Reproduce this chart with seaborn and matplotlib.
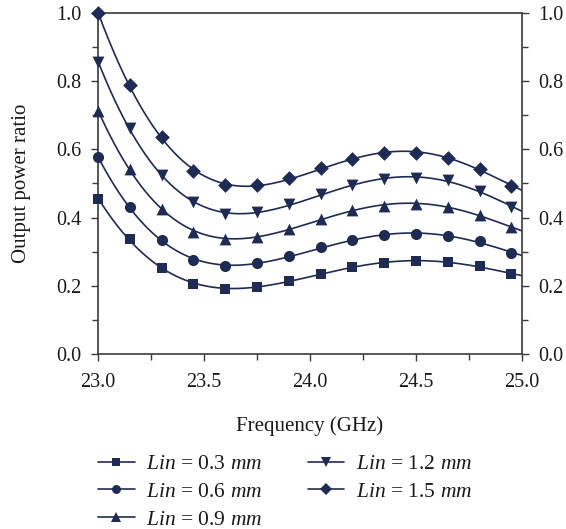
import numpy as np
import pandas as pd
import matplotlib
matplotlib.use("Agg")
import matplotlib.pyplot as plt
import seaborn as sns
from matplotlib.ticker import MultipleLocator, FormatStrFormatter
from matplotlib.lines import Line2D

# ---- data ----
freq = [23.00, 23.15, 23.30, 23.45, 23.60, 23.75, 23.90, 24.05, 24.20, 24.35, 24.50, 24.65, 24.80, 24.95]
lin_03 = [0.456, 0.336, 0.253, 0.205, 0.192, 0.197, 0.214, 0.236, 0.254, 0.267, 0.272, 0.269, 0.258, 0.235]
lin_06 = [0.577, 0.431, 0.334, 0.277, 0.258, 0.266, 0.287, 0.314, 0.333, 0.348, 0.352, 0.347, 0.330, 0.297]
lin_09 = [0.713, 0.543, 0.426, 0.359, 0.338, 0.343, 0.367, 0.396, 0.421, 0.435, 0.439, 0.432, 0.408, 0.371]
lin_12 = [0.857, 0.662, 0.525, 0.445, 0.410, 0.416, 0.439, 0.469, 0.495, 0.512, 0.515, 0.509, 0.478, 0.432]
lin_15 = [1.000, 0.788, 0.635, 0.538, 0.495, 0.495, 0.515, 0.545, 0.571, 0.589, 0.590, 0.576, 0.543, 0.493]
series_labels = ["0.3", "0.6", "0.9", "1.2", "1.5"]
x_ticks = [23.0, 23.5, 24.0, 24.5, 25.0]
y_ticks = [0.0, 0.2, 0.4, 0.6, 0.8, 1.0]

series_values = [lin_03, lin_06, lin_09, lin_12, lin_15]
markers = ["s", "o", "^", "v", "D"]
msizes = [7.0, 8.0, 8.5, 8.5, 7.5]

sns.set_style("ticks")
plt.rcParams["font.family"] = ["Liberation Serif", "DejaVu Serif"]
plt.rcParams["mathtext.fontset"] = "custom"
plt.rcParams["mathtext.it"] = "Liberation Serif:italic"
plt.rcParams["mathtext.rm"] = "Liberation Serif"

navy = "#1e2b55"
axis_col = "#3a3a3a"
text_col = "#1a1a1a"

fig = plt.figure(figsize=(5.66, 5.29), dpi=100)
ax = fig.add_axes([98/566, 1-354/529, (522-98)/566, (354-13)/529])

rows = []
for lab, vals in zip(series_labels, series_values):
    for f, v in zip(freq, vals):
        rows.append({"freq": f, "ratio": v, "series": lab})
df = pd.DataFrame(rows)

xs = np.linspace(23.0, 25.0, 300)
for lab, vals, mk, ms in zip(series_labels, series_values, markers, msizes):
    coef = np.polyfit(freq, vals, 5)
    sns.lineplot(x=xs, y=np.polyval(coef, xs), color=navy, lw=1.2, ax=ax)
    sub = df[df["series"] == lab]
    sns.scatterplot(data=sub, x="freq", y="ratio", marker=mk, s=ms**2,
                    color=navy, edgecolor=navy, linewidth=0, ax=ax,
                    clip_on=False, zorder=5)

ax.set_xlim(23.0, 25.0)
ax.set_ylim(0.0, 1.0)
ax.set_xticks(x_ticks)
ax.set_yticks(y_ticks)
ax.xaxis.set_minor_locator(MultipleLocator(0.25))
ax.yaxis.set_minor_locator(MultipleLocator(0.1))
ax.xaxis.set_major_formatter(FormatStrFormatter("%.1f"))
ax.yaxis.set_major_formatter(FormatStrFormatter("%.1f"))
ax.tick_params(which="both", direction="out", colors=axis_col, labelcolor=text_col,
               labelsize=14.5, right=True, labelright=True, top=False)
ax.tick_params(which="major", length=5, width=1.0)
ax.tick_params(which="minor", length=4, width=1.0)
ax.tick_params(axis="x", pad=9)
ax.tick_params(axis="y", pad=7)
for sp in ax.spines.values():
    sp.set_visible(True)
    sp.set_color(axis_col)
    sp.set_linewidth(1.2)

ax.set_xlabel("Frequency (GHz)", fontsize=15, color=text_col, labelpad=17)
ax.set_ylabel("Output power ratio", fontsize=15, color=text_col, labelpad=18)

handles = [Line2D([], [], color=navy, lw=1.2, marker=mk, markersize=ms*0.8,
                  markeredgewidth=0)
           for mk, ms in zip(markers, msizes)]
labels = [r"$\mathit{Lin}$ = " + l + r" $\mathit{mm}$" for l in series_labels]
fig.legend(handles, labels, loc="upper left", bbox_to_anchor=(98/566, 1-454/529),
           ncol=2, frameon=False, fontsize=15.5, handlelength=1.7,
           columnspacing=2.1, labelspacing=0.36, handletextpad=0.55,
           borderpad=0, borderaxespad=0, labelcolor=text_col)

fig.savefig("out.png", dpi=100)
